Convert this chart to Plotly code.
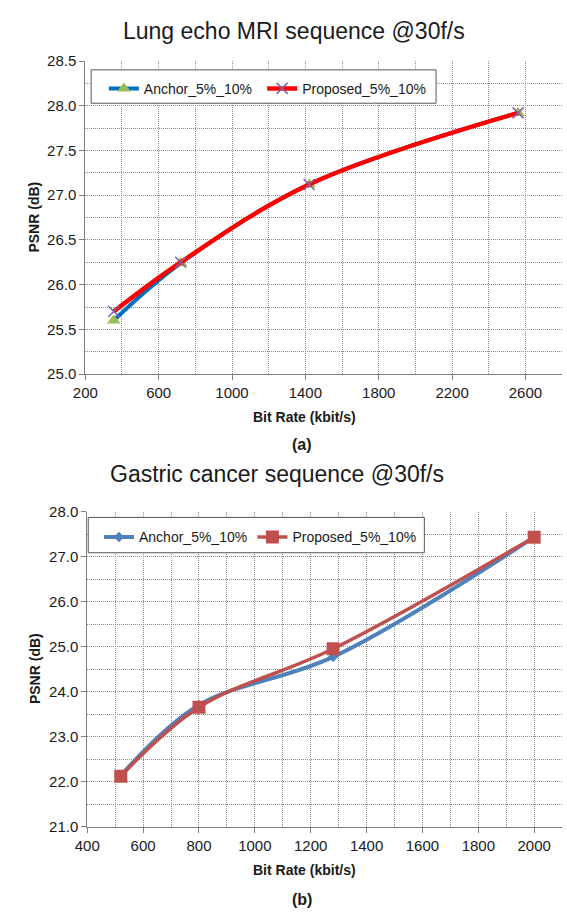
import plotly.graph_objects as go

W, H = 567, 918

# ---- Data (a): Lung echo MRI sequence
a_bitrate_anchor = [355, 720, 1420, 2560]
a_psnr_anchor = [25.60, 26.24, 27.12, 27.92]
a_bitrate_prop = [355, 720, 1420, 2560]
a_psnr_prop = [25.70, 26.25, 27.12, 27.92]

# ---- Data (b): Gastric cancer sequence
b_bitrate_anchor = [515, 800, 1280, 2000]
b_psnr_anchor = [22.10, 23.70, 24.77, 27.43]
b_bitrate_prop = [520, 800, 1280, 2000]
b_psnr_prop = [22.12, 23.65, 24.95, 27.43]

series_names = ["Anchor_5%_10%", "Proposed_5%_10%"]
titles = ["Lung echo MRI sequence @30f/s", "Gastric cancer sequence @30f/s"]
xlabel = "Bit Rate (kbit/s)"
ylabel = "PSNR (dB)"
sublabels = ["(a)", "(b)"]

FONT = "Liberation Sans, Arial, sans-serif"
GRIDC = "#8f8f8f"
GDASH = "1px,1px"


def px_x(p):
    return p / W


def px_y(p):
    return 1 - p / H


fig = go.Figure()

# (a)
fig.add_trace(go.Scatter(
    x=a_bitrate_anchor, y=a_psnr_anchor, name=series_names[0],
    mode="lines+markers", line=dict(color="#0070C0", width=4, shape="spline"),
    marker=dict(symbol="triangle-up", size=12, color="#9BBB59"),
    xaxis="x", yaxis="y", legend="legend"))
fig.add_trace(go.Scatter(
    x=a_bitrate_prop, y=a_psnr_prop, name=series_names[1],
    mode="lines+markers", line=dict(color="#FF0000", width=4.5, shape="spline"),
    marker=dict(symbol="x-thin", size=11, color="#8064A2",
                line=dict(color="#8064A2", width=1.5)),
    xaxis="x", yaxis="y", legend="legend2"))

# (b)
fig.add_trace(go.Scatter(
    x=b_bitrate_anchor, y=b_psnr_anchor, name=series_names[0],
    mode="lines+markers", line=dict(color="#4F81BD", width=4, shape="spline"),
    marker=dict(symbol="diamond", size=8, color="#4F81BD"),
    xaxis="x2", yaxis="y2", legend="legend3"))
fig.add_trace(go.Scatter(
    x=b_bitrate_prop, y=b_psnr_prop, name=series_names[1],
    mode="lines+markers", line=dict(color="#C0504D", width=3.5, shape="spline"),
    marker=dict(symbol="square", size=13, color="#C0504D"),
    xaxis="x2", yaxis="y2", legend="legend4"))

grid = dict(showgrid=True, gridcolor=GRIDC, griddash=GDASH, gridwidth=1,
            showline=True, linecolor="#7f7f7f", linewidth=1,
            ticks="outside", ticklen=5, tickcolor="#7f7f7f",
            tickfont=dict(family=FONT, size=15, color="#1a1a1a"),
            zeroline=False)


def minor(dt, t0):
    return dict(dtick=dt, tick0=t0, showgrid=True, gridcolor=GRIDC, griddash=GDASH)


def legend_at(line_x, center_y):
    # plotly: legend line symbol starts 5px right of legend x; item centre ~14px below top
    return dict(x=px_x(line_x - 5), y=px_y(center_y - 14), xanchor="left", yanchor="top",
                orientation="v", bgcolor="rgba(0,0,0,0)", borderwidth=0, itemwidth=30,
                font=dict(family=FONT, size=14, color="#1a1a1a"))


fig.update_layout(
    width=W, height=H, autosize=False,
    margin=dict(l=0, r=0, t=0, b=0),
    paper_bgcolor="white", plot_bgcolor="white",
    font=dict(family=FONT, color="#1a1a1a"),
    xaxis=dict(domain=[px_x(74), px_x(562)], range=[200, 2800], tick0=200, dtick=400,
               minor=minor(200, 200), anchor="y", **grid),
    yaxis=dict(domain=[px_y(372), px_y(53)], range=[25.0, 28.5], tick0=25, dtick=0.5,
               tickformat=".1f", minor=minor(0.25, 25), anchor="x", **grid),
    xaxis2=dict(domain=[px_x(76), px_x(562)], range=[400, 2100], tick0=400, dtick=200,
                minor=minor(100, 400), anchor="y2", **grid),
    yaxis2=dict(domain=[px_y(833), px_y(512)], range=[21.0, 28.0], tick0=21, dtick=1.0,
                tickformat=".1f", minor=minor(0.5, 21), anchor="x2", **grid),
    legend=legend_at(98, 79),
    legend2=legend_at(260, 79),
    legend3=legend_at(93, 536),
    legend4=legend_at(250, 536),
    showlegend=True,
)

# legend frames
for (x0, x1, y0, y1) in [(80, 433, 62, 96), (77, 421, 518, 554)]:
    fig.add_shape(type="rect", xref="paper", yref="paper",
                  x0=px_x(x0), x1=px_x(x1), y0=px_y(y1), y1=px_y(y0),
                  line=dict(color="#555555", width=1), fillcolor="white", layer="above")

ann = []


def add_text(text, xc, yc, size, angle=0):
    ann.append(dict(text=text, x=px_x(xc), y=px_y(yc), xref="paper", yref="paper",
                    xanchor="center", yanchor="middle", showarrow=False, textangle=angle,
                    font=dict(family=FONT, size=size, color="#1a1a1a")))


add_text(titles[0], 288, 22, 23)
add_text(titles[1], 270, 474, 23)
for yc in [416, 877]:
    add_text("<b>" + xlabel + "</b>", 298, yc, 14)
for yc in [212, 672]:
    add_text("<b>" + ylabel + "</b>", 22, yc, 14, angle=-90)
for lab, yc in zip(sublabels, [444, 907]):
    add_text("<b>" + lab + "</b>", 296, yc, 16)
fig.update_layout(annotations=ann)

fig.write_html("out.html", config={"displayModeBar": False},
               post_script="document.body.style.margin='0px';document.body.style.overflow='hidden';")
